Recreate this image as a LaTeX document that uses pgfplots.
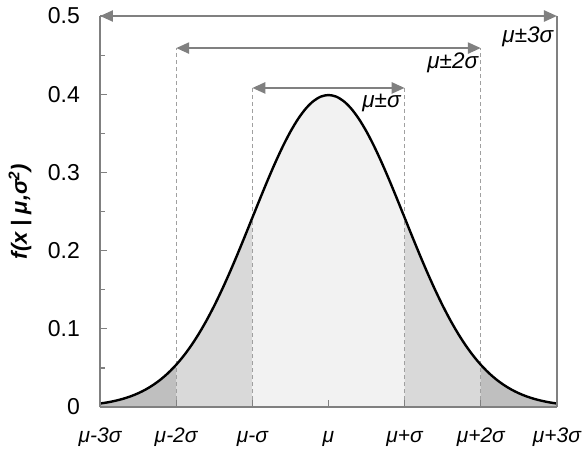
\documentclass[border=0pt]{standalone}
\usepackage{pgfplots}
\pgfplotsset{compat=1.18}
\usepackage{pgfplotstable}
\usepackage{fontspec}
\setmainfont{Liberation Sans}
\usetikzlibrary{arrows.meta,calc}
\definecolor{axgray}{HTML}{808080}
\definecolor{dashgray}{HTML}{A0A0A0}
\definecolor{fillA}{HTML}{BFBFBF}
\definecolor{fillB}{HTML}{D9D9D9}
\definecolor{fillC}{HTML}{F2F2F2}
\pgfplotstableread{
x y
-3.0 0.00443
-2.9 0.00595
-2.8 0.00792
-2.7 0.01042
-2.6 0.01358
-2.5 0.01753
-2.4 0.02239
-2.3 0.02833
-2.2 0.03547
-2.1 0.04398
-2.0 0.05399
-1.9 0.06562
-1.8 0.07895
-1.7 0.09405
-1.6 0.11092
-1.5 0.12952
-1.4 0.14973
-1.3 0.17137
-1.2 0.19419
-1.1 0.21785
-1.0 0.24197
-0.9 0.26609
-0.8 0.28969
-0.7 0.31225
-0.6 0.33322
-0.5 0.35207
-0.4 0.36827
-0.3 0.38139
-0.2 0.39104
-0.1 0.39695
0.0 0.39894
0.1 0.39695
0.2 0.39104
0.3 0.38139
0.4 0.36827
0.5 0.35207
0.6 0.33322
0.7 0.31225
0.8 0.28969
0.9 0.26609
1.0 0.24197
1.1 0.21785
1.2 0.19419
1.3 0.17137
1.4 0.14973
1.5 0.12952
1.6 0.11092
1.7 0.09405
1.8 0.07895
1.9 0.06562
2.0 0.05399
2.1 0.04398
2.2 0.03547
2.3 0.02833
2.4 0.02239
2.5 0.01753
2.6 0.01358
2.7 0.01042
2.8 0.00792
2.9 0.00595
3.0 0.00443
}\pdftable
\newcommand{\yt}[1]{\fontsize{23}{27}\selectfont #1}
\newcommand{\xt}[1]{\fontsize{21}{25}\selectfont\itshape #1}
\begin{document}
\begin{tikzpicture}
\begin{axis}[
  scale only axis,
  width=457pt, height=391pt,
  xmin=-3, xmax=3, ymin=0, ymax=0.5,
  axis lines=left,
  axis line style={-, draw=axgray, line width=2pt},
  axis on top=true,
  clip=false,
  xtick={-3,-2,-1,0,1,2,3},
  xticklabels={\xt{μ-3σ},\xt{μ-2σ},\xt{μ-σ},\xt{μ},\xt{μ+σ},\xt{μ+2σ},\xt{μ+3σ}},
  xticklabel style={text height=15pt, inner sep=0pt, yshift=-20pt},
  ytick={0,0.1,0.2,0.3,0.4,0.5},
  yticklabels={\yt{0},\yt{0.1},\yt{0.2},\yt{0.3},\yt{0.4},\yt{0.5}},
  yticklabel style={inner sep=0pt, xshift=-20pt},
  minor y tick num=1,
  tick align=inside,
  major tick length=7pt,
  minor tick length=5pt,
  every tick/.append style={draw=axgray, line width=1.2pt},
  ylabel={\fontsize{22}{26}\selectfont\bfseries\itshape f(x | μ,σ\textsuperscript{2})},
  ylabel style={at={(axis description cs:-0.175,0.5)}, anchor=center},
]
% fills
\addplot[fill=fillA, draw=none, restrict x to domain=-3:-2] table {\pdftable} \closedcycle;
\addplot[fill=fillB, draw=none, restrict x to domain=-2:-1] table {\pdftable} \closedcycle;
\addplot[fill=fillC, draw=none, restrict x to domain=-1:1] table {\pdftable} \closedcycle;
\addplot[fill=fillB, draw=none, restrict x to domain=1:2] table {\pdftable} \closedcycle;
\addplot[fill=fillA, draw=none, restrict x to domain=2:3] table {\pdftable} \closedcycle;
% dashed verticals
\addplot[dashgray, line width=1.1pt, dash pattern=on 4pt off 3pt] coordinates {(-2,0) (-2,0.459)};
\addplot[dashgray, line width=1.1pt, dash pattern=on 4pt off 3pt] coordinates {(2,0) (2,0.459)};
\addplot[dashgray, line width=1.1pt, dash pattern=on 4pt off 3pt] coordinates {(-1,0) (-1,0.408)};
\addplot[dashgray, line width=1.1pt, dash pattern=on 4pt off 3pt] coordinates {(1,0) (1,0.408)};
\addplot[axgray, line width=1.6pt] coordinates {(3,0) (3,0.5)};
% curve
\addplot[black, line width=2.4pt, smooth] table {\pdftable};
% arrows
\addplot[axgray, line width=2.4pt, {Triangle[length=13pt,width=11pt]}-{Triangle[length=13pt,width=11pt]}] coordinates {(-3,0.5) (3,0.5)};
\addplot[axgray, line width=2.4pt, {Triangle[length=13pt,width=11pt]}-{Triangle[length=13pt,width=11pt]}] coordinates {(-2,0.459) (2,0.459)};
\addplot[axgray, line width=2.4pt, {Triangle[length=13pt,width=11pt]}-{Triangle[length=13pt,width=11pt]}] coordinates {(-1,0.408) (1,0.408)};
\node[anchor=base east, inner sep=0pt, font=\fontsize{22.5}{26}\selectfont\itshape] at (axis cs:2.953,0.4655) {μ±3σ};
\node[anchor=base east, inner sep=0pt, font=\fontsize{22.5}{26}\selectfont\itshape] at (axis cs:1.967,0.4335) {μ±2σ};
\node[anchor=base east, inner sep=0pt, font=\fontsize{22.5}{26}\selectfont\itshape] at (axis cs:0.95,0.3836) {μ±σ};
\coordinate (bl) at (rel axis cs:0,0);
\coordinate (tr) at (rel axis cs:1,1);
\end{axis}
\pgfresetboundingbox
\path ($(bl)+(-100pt,-41pt)$) rectangle ($(tr)+(29pt,16pt)$);
\end{tikzpicture}
\end{document}
